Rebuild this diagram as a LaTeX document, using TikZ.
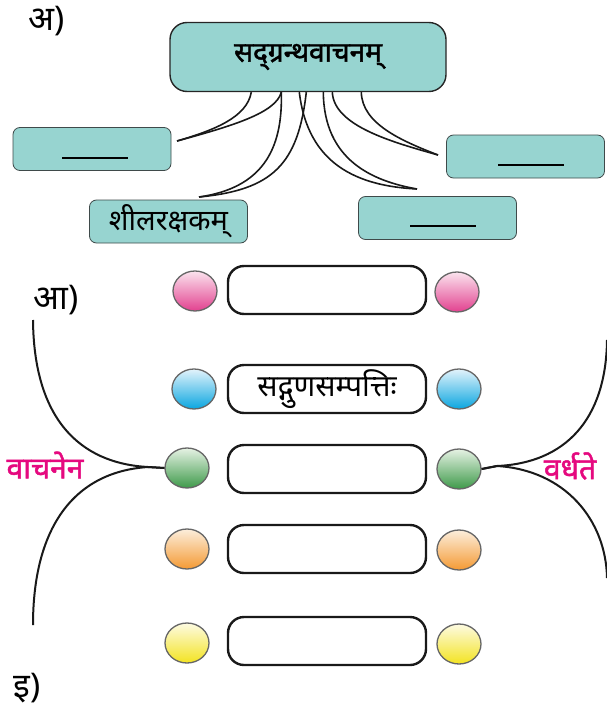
\documentclass[tikz,border=0pt]{standalone}
\usepackage{fontspec}
\newfontfamily\deva[Script=Devanagari]{Noto Sans}
\newfontfamily\devab[Script=Devanagari,FakeBold=1.6]{Noto Sans}
\usetikzlibrary{calc,shapes.geometric}
\definecolor{tealfill}{HTML}{97D4D0}
\definecolor{tealdraw}{HTML}{3F4A4A}
\definecolor{mag}{HTML}{E5097F}
\definecolor{pinkD}{HTML}{E2418F}
\definecolor{pinkL}{HTML}{FBE3EE}
\definecolor{blueD}{HTML}{0AA6E0}
\definecolor{blueL}{HTML}{E3F3FB}
\definecolor{greenD}{HTML}{3E9A4A}
\definecolor{greenL}{HTML}{E6F2E4}
\definecolor{orangeD}{HTML}{F49A34}
\definecolor{orangeL}{HTML}{FCEEDC}
\definecolor{yellowD}{HTML}{F3E321}
\definecolor{yellowL}{HTML}{FDFBE2}
\begin{document}
\begin{tikzpicture}[x=1pt,y=-1pt,
  topbox/.style={draw=black!85, line width=1.4pt, fill=tealfill, rounded corners=17pt,
     minimum width=276pt, minimum height=69pt, inner sep=0pt, font=\devab\fontsize{28}{32}\selectfont},
  smallbox/.style={draw=tealdraw, line width=0.8pt, fill=tealfill, rounded corners=7pt,
     minimum width=158pt, minimum height=43pt, inner sep=0pt, font=\deva\fontsize{29}{32}\selectfont},
  blank/.style={inner sep=0pt, minimum width=0pt},
  pill/.style={draw=black!90, line width=2.4pt, fill=white, rounded corners=16pt,
     minimum width=198pt, minimum height=48pt, inner sep=0pt, font=\deva\fontsize{30}{32}\selectfont},
  ball/.style={ellipse, draw=black!60, line width=1.3pt, minimum width=44pt, minimum height=40pt, inner sep=0pt},
  conn/.style={draw=black!90, line width=1.6pt},
  link/.style={draw=black!90, line width=2pt},
  lbl/.style={font=\deva\fontsize{34}{38}\selectfont, inner sep=0pt},
  mlbl/.style={font=\devab\fontsize{30}{34}\selectfont, text=mag, inner sep=0pt},
]
\useasboundingbox (0,0) rectangle (607,709);

% labels
\node[lbl] (la) at (47,21) {अ)};
\node[lbl] (laa) at (56,300) {आ)};
\node[lbl] (li) at (27,688) {इ)};

% top concept map
\node[topbox] (top) at (308,57) {सद्ग्रन्थवाचनम्};
\node[smallbox] (A) at (92,149) {};
\node[blank] (blA) at (95,158) {\rule{66pt}{1.6pt}};
\node[smallbox] (B) at (525.5,156.5) {};
\node[blank] (blB) at (531,165) {\rule{66pt}{1.6pt}};
\node[smallbox] (C) at (168.5,221.5) {शीलरक्षकम्};
\node[smallbox] (D) at (437.5,218) {};
\node[blank] (blD) at (443,226) {\rule{66pt}{1.6pt}};

% start points on top box and tips
\coordinate (s1) at ($(top.south west)+(82,0)$);
\coordinate (s2) at ($(top.south west)+(112,0)$);
\coordinate (s3) at ($(top.south west)+(130,0)$);
\coordinate (s4) at ($(top.south west)+(137,0)$);
\coordinate (s5) at ($(top.south west)+(154,0)$);
\coordinate (s6) at ($(top.south west)+(163,0)$);
\coordinate (s7) at ($(top.south west)+(192,0)$);
\coordinate (tA) at (177,141);
\coordinate (tC) at (199,197);
\coordinate (tD) at (417,189);
\coordinate (tB) at (438,155);

\draw[conn] (s1) .. controls (247,117) and (215,130) .. (tA);
\draw[conn] (s2) .. controls (276,113) and (232,126) .. (tA);
\draw[conn] (s2) .. controls (283,150) and (262,188) .. (tC);
\draw[conn] (s4) .. controls (298,165) and (272,190) .. (tC);
\draw[conn] (s3) .. controls (308,165) and (358,186) .. (tD);
\draw[conn] (s5) .. controls (324,160) and (372,181) .. (tD);
\draw[conn] (s6) .. controls (334,126) and (392,142) .. (tB);
\draw[conn] (s7) .. controls (362,124) and (402,141) .. (tB);

% bottom rows
\node[pill] (p1) at (327,290) {};
\node[pill] (p2) at (327,389) {सद्गुणसम्पत्तिः};
\node[pill] (p3) at (327,469) {};
\node[pill] (p4) at (327,549) {};
\node[pill] (p5) at (327,641) {};

\node[ball, top color=pinkL, bottom color=pinkD] (l1) at (195,291) {};
\node[ball, top color=pinkL, bottom color=pinkD] (r1) at (457,292) {};
\node[ball, top color=blueL, bottom color=blueD] (l2) at (194,389) {};
\node[ball, top color=blueL, bottom color=blueD] (r2) at (459,389) {};
\node[ball, top color=greenL, bottom color=greenD] (l3) at (187,468) {};
\node[ball, top color=greenL, bottom color=greenD] (r3) at (459,469) {};
\node[ball, top color=orangeL, bottom color=orangeD] (l4) at (187,549) {};
\node[ball, top color=orangeL, bottom color=orangeD] (r4) at (459,550) {};
\node[ball, top color=yellowL, bottom color=yellowD] (l5) at (187,643) {};
\node[ball, top color=yellowL, bottom color=yellowD] (r5) at (459,644) {};

\node[mlbl] (vac) at (45,465) {वाचनेन};
\node[mlbl] (var) at (570,466) {वर्धते};

% side connectors
\coordinate (eL1) at (33,320);
\coordinate (eL2) at (33,625);
\coordinate (eR1) at (607,340);
\coordinate (eR2) at (607,578);
\coordinate (jL) at (148,467);
\coordinate (jR) at (497,466);
\draw[link] (eL1) .. controls (34,430) and (90,464) .. (jL) -- (l3.west);
\draw[link] (l3.west) -- (jL) .. controls (72,472) and (33,530) .. (eL2);
\draw[link] (r3.east) -- (jR) .. controls (565,463) and (606,420) .. (eR1);
\draw[link] (r3.east) -- (jR) .. controls (565,470) and (606,520) .. (eR2);
\end{tikzpicture}
\end{document}
